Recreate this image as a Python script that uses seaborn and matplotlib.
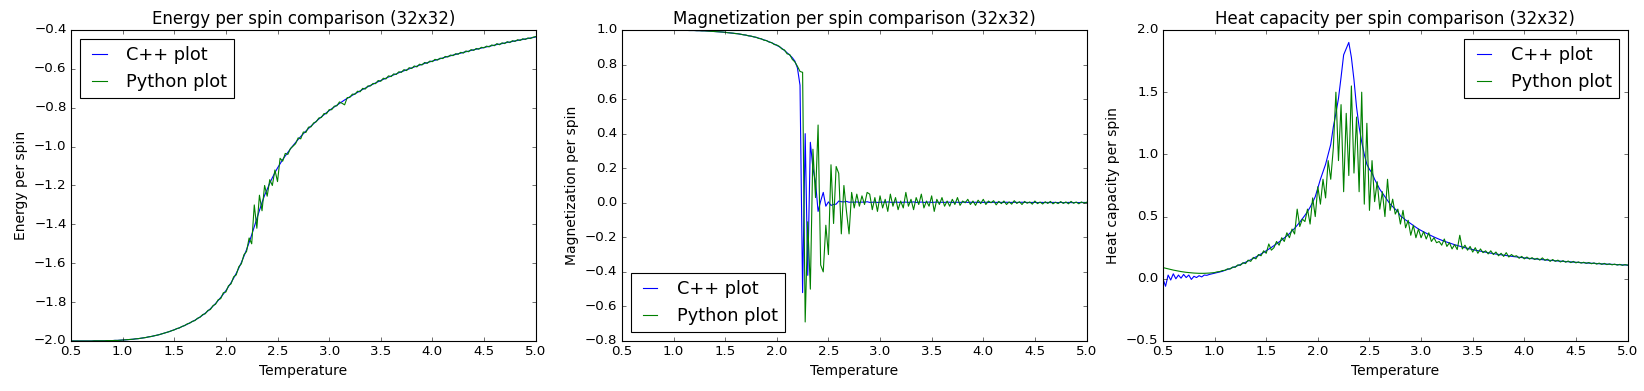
import numpy as np
import matplotlib
matplotlib.use('Agg')
import matplotlib.pyplot as plt
import seaborn as sns

plt.style.use('classic')
plt.rcParams['axes.titlesize'] = 15
plt.rcParams['axes.labelsize'] = 12.5
plt.rcParams['legend.handlelength'] = 1.4

"""Values read off the reference, temperature grid step 0.025"""
temperature = np.round(np.arange(0.5, 5.0001, 0.025), 3)

energy_cpp = [
    -2.000, -2.000, -2.000, -2.000, -2.000, -2.000, -2.000, -2.000, -2.000, -1.999,
    -1.999, -1.999, -1.999, -1.999, -1.998, -1.998, -1.998, -1.997, -1.997, -1.996,
    -1.995, -1.994, -1.993, -1.992, -1.991, -1.989, -1.988, -1.986, -1.984, -1.982,
    -1.979, -1.977, -1.974, -1.971, -1.968, -1.964, -1.960, -1.956, -1.952, -1.947,
    -1.942, -1.937, -1.932, -1.926, -1.920, -1.914, -1.907, -1.900, -1.893, -1.885,
    -1.876, -1.867, -1.857, -1.846, -1.834, -1.821, -1.807, -1.792, -1.776, -1.759,
    -1.741, -1.721, -1.700, -1.677, -1.652, -1.625, -1.596, -1.564, -1.530, -1.493,
    -1.454, -1.412, -1.370, -1.328, -1.288, -1.250, -1.220, -1.188, -1.160, -1.134,
    -1.110, -1.088, -1.067, -1.048, -1.030, -1.012, -0.995, -0.979, -0.963, -0.948,
    -0.934, -0.920, -0.907, -0.894, -0.882, -0.870, -0.858, -0.847, -0.836, -0.825,
    -0.815, -0.805, -0.796, -0.787, -0.778, -0.769, -0.760, -0.752, -0.744, -0.736,
    -0.728, -0.721, -0.713, -0.706, -0.699, -0.692, -0.685, -0.679, -0.672, -0.666,
    -0.660, -0.654, -0.648, -0.642, -0.637, -0.631, -0.626, -0.620, -0.615, -0.610,
    -0.605, -0.600, -0.595, -0.590, -0.586, -0.581, -0.577, -0.572, -0.568, -0.564,
    -0.560, -0.556, -0.552, -0.548, -0.544, -0.540, -0.536, -0.533, -0.529, -0.526,
    -0.522, -0.519, -0.515, -0.512, -0.509, -0.505, -0.502, -0.499, -0.496, -0.493,
    -0.490, -0.487, -0.484, -0.481, -0.478, -0.475, -0.473, -0.470, -0.467, -0.464,
    -0.462, -0.459, -0.456, -0.454, -0.451, -0.449, -0.446, -0.444, -0.441, -0.439,
    -0.436,
]

energy_py = [
    -2.000, -2.000, -2.000, -2.000, -2.000, -2.000, -2.000, -2.000, -2.000, -1.999,
    -1.999, -1.999, -1.999, -1.999, -1.998, -1.998, -1.998, -1.997, -1.997, -1.996,
    -1.995, -1.994, -1.993, -1.992, -1.991, -1.989, -1.988, -1.986, -1.984, -1.982,
    -1.979, -1.977, -1.974, -1.971, -1.968, -1.964, -1.960, -1.956, -1.952, -1.947,
    -1.943, -1.936, -1.933, -1.925, -1.921, -1.912, -1.908, -1.899, -1.895, -1.883,
    -1.878, -1.864, -1.860, -1.843, -1.838, -1.818, -1.811, -1.788, -1.782, -1.752,
    -1.748, -1.716, -1.706, -1.670, -1.660, -1.618, -1.603, -1.556, -1.540, -1.470,
    -1.500, -1.300, -1.420, -1.250, -1.330, -1.200, -1.255, -1.170, -1.200, -1.120,
    -1.180, -1.060, -1.075, -1.035, -1.040, -1.010, -0.998, -0.985, -0.955, -0.960,
    -0.925, -0.927, -0.900, -0.898, -0.878, -0.872, -0.853, -0.850, -0.830, -0.831,
    -0.810, -0.810, -0.792, -0.790, -0.770, -0.777, -0.785, -0.748, -0.747, -0.730,
    -0.731, -0.715, -0.718, -0.700, -0.704, -0.688, -0.688, -0.675, -0.676, -0.660,
    -0.664, -0.648, -0.652, -0.636, -0.640, -0.626, -0.629, -0.615, -0.618, -0.604,
    -0.609, -0.594, -0.598, -0.585, -0.590, -0.576, -0.580, -0.567, -0.572, -0.560,
    -0.563, -0.551, -0.555, -0.545, -0.547, -0.536, -0.539, -0.529, -0.532, -0.522,
    -0.525, -0.515, -0.519, -0.508, -0.512, -0.501, -0.505, -0.495, -0.499, -0.489,
    -0.492, -0.483, -0.487, -0.477, -0.481, -0.470, -0.476, -0.466, -0.470, -0.460,
    -0.465, -0.455, -0.459, -0.450, -0.454, -0.445, -0.449, -0.441, -0.444, -0.437,
    -0.434,
]

magnet_cpp = [
    1.000, 1.000, 1.000, 1.000, 1.000, 1.000, 1.000, 1.000, 1.000, 1.000,
    1.000, 1.000, 1.000, 1.000, 1.000, 1.000, 0.999, 0.999, 0.999, 0.999,
    0.999, 0.999, 0.999, 0.998, 0.998, 0.998, 0.997, 0.997, 0.997, 0.996,
    0.996, 0.995, 0.995, 0.994, 0.993, 0.992, 0.991, 0.990, 0.989, 0.988,
    0.986, 0.985, 0.983, 0.981, 0.980, 0.978, 0.975, 0.973, 0.970, 0.967,
    0.964, 0.961, 0.957, 0.953, 0.948, 0.943, 0.938, 0.932, 0.926, 0.919,
    0.911, 0.903, 0.893, 0.881, 0.868, 0.855, 0.840, 0.820, 0.780, 0.680,
    -0.520, 0.400, -0.420, 0.350, 0.200, 0.120, -0.050, 0.010, 0.060, -0.020,
    0.005, -0.015, -0.010, -0.008, 0.010, 0.006, 0.005, 0.008, 0.003, 0.004,
    0.003, 0.005, 0.002, 0.004, 0.003, 0.006, 0.002, 0.003, 0.004, 0.002,
    0.003, 0.004, 0.002, 0.005, 0.003, 0.002, 0.004, 0.003, 0.002, 0.003,
    0.004, 0.002, 0.003, 0.005, 0.002, 0.003, 0.004, 0.002, 0.003, 0.004,
    0.002, 0.003, 0.004, 0.002, 0.003, 0.002, 0.004, 0.003, 0.002, 0.003,
    0.003, 0.002, 0.003, 0.004, 0.002, 0.003, 0.002, 0.003, 0.002, 0.003,
    0.002, 0.003, 0.002, 0.002, 0.003, 0.002, 0.003, 0.002, 0.002, 0.003,
    0.002, 0.002, 0.003, 0.002, 0.002, 0.003, 0.002, 0.002, 0.001, 0.002,
    0.002, 0.001, 0.002, 0.002, 0.001, 0.002, 0.001, 0.002, 0.002, 0.001,
    0.002, 0.001, 0.001, 0.002, 0.001, 0.001, 0.002, 0.001, 0.001, 0.002,
    0.001,
]

magnet_py = [
    1.000, 1.000, 1.000, 1.000, 1.000, 1.000, 1.000, 1.000, 1.000, 1.000,
    1.000, 1.000, 1.000, 1.000, 1.000, 1.000, 0.999, 0.999, 0.999, 0.999,
    0.999, 0.999, 0.999, 0.998, 0.998, 0.998, 0.997, 0.997, 0.997, 0.996,
    0.996, 0.995, 0.995, 0.994, 0.993, 0.992, 0.991, 0.990, 0.989, 0.988,
    0.987, 0.984, 0.983, 0.982, 0.979, 0.978, 0.976, 0.972, 0.971, 0.966,
    0.965, 0.960, 0.958, 0.951, 0.949, 0.941, 0.939, 0.930, 0.927, 0.916,
    0.913, 0.905, 0.890, 0.884, 0.862, 0.858, 0.830, 0.815, 0.790, 0.760,
    0.755, -0.690, -0.110, -0.500, 0.310, 0.030, 0.450, -0.360, -0.400, -0.130,
    -0.300, 0.220, -0.120, 0.210, 0.170, -0.180, 0.100, -0.050, -0.180, 0.060,
    -0.030, 0.050, -0.020, 0.040, -0.010, 0.060, 0.050, -0.040, 0.030, -0.050,
    0.040, -0.030, 0.020, -0.050, 0.050, -0.020, 0.030, -0.040, 0.010, -0.030,
    0.060, -0.020, 0.020, -0.040, 0.030, -0.010, 0.050, -0.030, 0.010, -0.020,
    0.040, -0.050, 0.020, -0.010, 0.030, -0.020, 0.010, -0.020, 0.020, -0.010,
    0.030, -0.015, 0.010, 0.000, 0.020, -0.010, 0.010, -0.015, 0.015, -0.005,
    0.020, -0.010, 0.010, 0.000, 0.012, -0.012, 0.008, -0.005, 0.010, -0.010,
    0.005, -0.008, 0.012, -0.004, 0.006, -0.010, 0.008, -0.003, 0.005, -0.008,
    0.010, -0.005, 0.004, -0.007, 0.006, -0.004, 0.008, -0.006, 0.003, -0.005,
    0.007, -0.004, 0.005, -0.006, 0.008, -0.003, 0.004, -0.006, 0.005, -0.002,
    0.003,
]

heat_cpp = [
    0.000, -0.060, 0.030, -0.010, 0.040, 0.000, 0.030, 0.005, 0.035, 0.010,
    0.030, -0.005, 0.020, 0.010, 0.025, 0.015, 0.030, 0.028, 0.035, 0.040,
    0.045, 0.050, 0.055, 0.060, 0.068, 0.075, 0.082, 0.090, 0.098, 0.106,
    0.115, 0.124, 0.133, 0.143, 0.153, 0.164, 0.175, 0.187, 0.199, 0.212,
    0.225, 0.238, 0.252, 0.266, 0.281, 0.296, 0.312, 0.328, 0.345, 0.363,
    0.385, 0.405, 0.430, 0.455, 0.482, 0.510, 0.540, 0.575, 0.615, 0.660,
    0.730, 0.800, 0.860, 0.920, 1.000, 1.080, 1.220, 1.330, 1.450, 1.620,
    1.800, 1.850, 1.900, 1.780, 1.600, 1.380, 1.220, 1.100, 1.000, 0.920,
    0.880, 0.850, 0.800, 0.760, 0.720, 0.690, 0.660, 0.630, 0.600, 0.580,
    0.560, 0.540, 0.505, 0.490, 0.473, 0.458, 0.443, 0.428, 0.414, 0.400,
    0.388, 0.377, 0.366, 0.356, 0.346, 0.336, 0.327, 0.318, 0.310, 0.302,
    0.295, 0.288, 0.281, 0.274, 0.268, 0.262, 0.256, 0.250, 0.245, 0.240,
    0.235, 0.230, 0.226, 0.222, 0.218, 0.214, 0.210, 0.206, 0.203, 0.199,
    0.196, 0.193, 0.190, 0.187, 0.184, 0.181, 0.178, 0.176, 0.173, 0.171,
    0.168, 0.166, 0.164, 0.162, 0.160, 0.158, 0.156, 0.154, 0.152, 0.150,
    0.148, 0.147, 0.145, 0.143, 0.142, 0.140, 0.139, 0.137, 0.136, 0.134,
    0.133, 0.131, 0.130, 0.129, 0.127, 0.126, 0.125, 0.124, 0.123, 0.121,
    0.120, 0.119, 0.118, 0.117, 0.116, 0.115, 0.114, 0.113, 0.112, 0.111,
    0.110,
]

heat_py = [
    0.090, 0.085, 0.080, 0.075, 0.070, 0.066, 0.062, 0.058, 0.055, 0.052,
    0.050, 0.048, 0.046, 0.045, 0.044, 0.044, 0.044, 0.045, 0.046, 0.048,
    0.050, 0.056, 0.058, 0.066, 0.068, 0.080, 0.078, 0.095, 0.092, 0.112,
    0.108, 0.130, 0.122, 0.150, 0.140, 0.172, 0.160, 0.195, 0.185, 0.225,
    0.205, 0.280, 0.230, 0.250, 0.300, 0.270, 0.330, 0.300, 0.370, 0.330,
    0.400, 0.360, 0.560, 0.420, 0.480, 0.460, 0.560, 0.440, 0.650, 0.500,
    0.740, 0.600, 0.800, 0.650, 0.950, 0.800, 1.050, 1.500, 0.950, 1.400,
    0.700, 1.330, 0.830, 1.550, 0.850, 1.300, 0.700, 1.500, 0.600, 1.250,
    0.550, 0.950, 0.620, 0.780, 0.560, 0.700, 0.500, 0.800, 0.550, 0.640,
    0.520, 0.560, 0.440, 0.550, 0.410, 0.470, 0.350, 0.430, 0.330, 0.400,
    0.330, 0.380, 0.320, 0.370, 0.300, 0.330, 0.290, 0.300, 0.270, 0.320,
    0.260, 0.290, 0.240, 0.275, 0.235, 0.350, 0.240, 0.270, 0.230, 0.260,
    0.215, 0.250, 0.205, 0.240, 0.210, 0.225, 0.200, 0.225, 0.195, 0.215,
    0.185, 0.205, 0.180, 0.210, 0.175, 0.195, 0.180, 0.185, 0.165, 0.180,
    0.160, 0.175, 0.158, 0.170, 0.155, 0.165, 0.150, 0.168, 0.148, 0.158,
    0.140, 0.155, 0.140, 0.150, 0.135, 0.146, 0.133, 0.143, 0.130, 0.140,
    0.128, 0.136, 0.126, 0.133, 0.124, 0.131, 0.121, 0.128, 0.118, 0.126,
    0.116, 0.124, 0.114, 0.120, 0.112, 0.118, 0.110, 0.116, 0.108, 0.114,
    0.110,
]


def draw_panel(ax, y_cpp, y_py, title, ylabel, ylim, loc):
    sns.lineplot(x=temperature, y=y_cpp, color='b', label='C++ plot', ax=ax, estimator=None)
    sns.lineplot(x=temperature, y=y_py, color='g', label='Python plot', ax=ax, estimator=None)
    ax.set_xlim(0.5, 5.0)
    ax.set_ylim(*ylim)
    ax.set_title(title)
    ax.set_xlabel('Temperature')
    ax.set_ylabel(ylabel)
    ax.legend(loc=loc, fontsize=16)


if __name__ == '__main__':
    fig = plt.figure(figsize=(1644 / 80, 391 / 80), dpi=80)
    bottom, height, width = 0.1279, 0.7954, 0.2826

    ax1 = fig.add_axes([0.0432, bottom, width, height])
    draw_panel(ax1, energy_cpp, energy_py, 'Energy per spin comparison (32x32)',
               'Energy per spin', (-2.0, -0.4), 'upper left')

    ax2 = fig.add_axes([0.3783, bottom, width, height])
    draw_panel(ax2, magnet_cpp, magnet_py, 'Magnetization per spin comparison (32x32)',
               'Magnetization per spin', (-0.8, 1.0), 'lower left')

    ax3 = fig.add_axes([0.7074, bottom, width, height])
    draw_panel(ax3, heat_cpp, heat_py, 'Heat capacity per spin comparison (32x32)',
               'Heat capacity per spin', (-0.5, 2.0), 'upper right')

    plt.savefig('out.png', dpi=80, facecolor='white')
    plt.close()
